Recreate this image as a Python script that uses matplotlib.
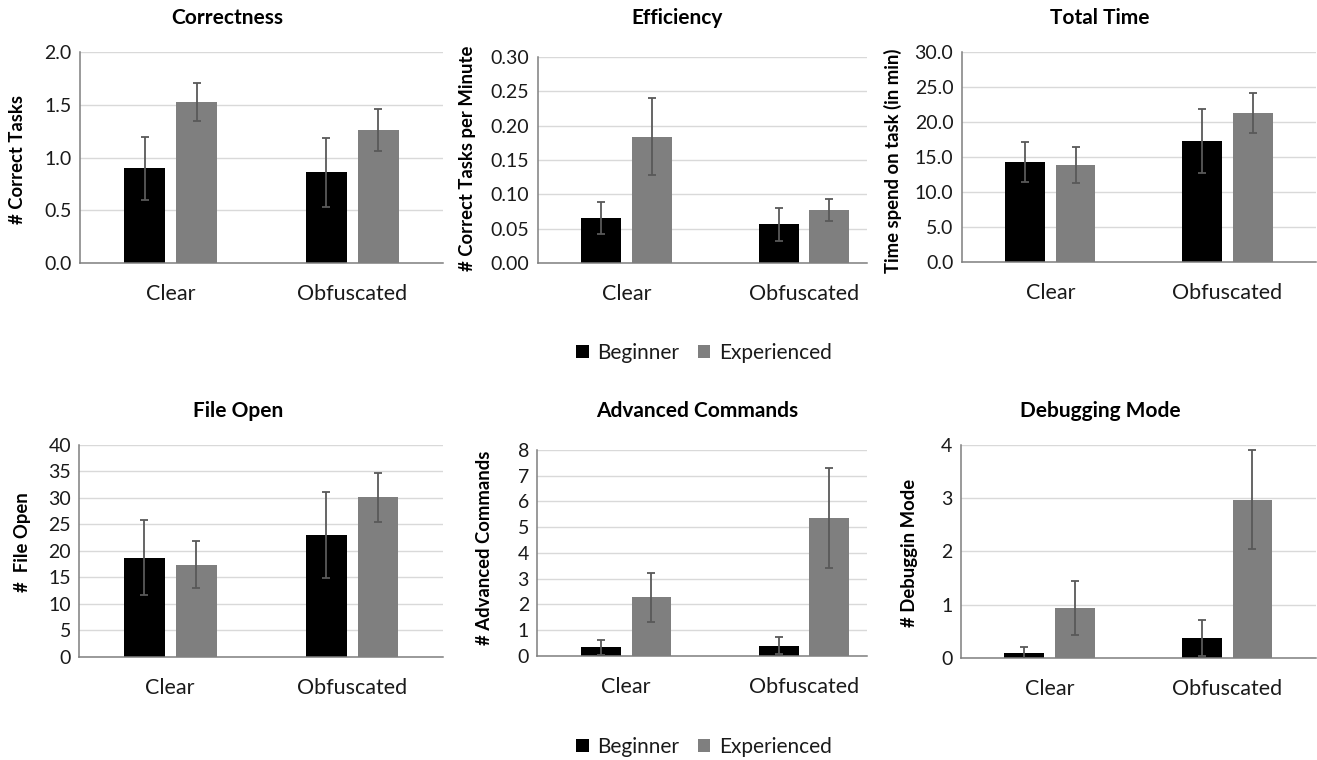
import matplotlib
matplotlib.use("Agg")
import matplotlib.pyplot as plt
from matplotlib.patches import Patch
import numpy as np

plt.rcParams['font.family'] = ['Lato', 'DejaVu Sans']

categories = ["Clear", "Obfuscated"]
series_names = ["Beginner", "Experienced"]

correct_beg = [0.90, 0.86]
correct_beg_err = [0.30, 0.33]
correct_exp = [1.53, 1.26]
correct_exp_err = [0.18, 0.20]

eff_beg = [0.066, 0.057]
eff_beg_err = [0.023, 0.024]
eff_exp = [0.184, 0.078]
eff_exp_err = [0.056, 0.016]

time_beg = [14.3, 17.3]
time_beg_err = [2.9, 4.6]
time_exp = [13.9, 21.3]
time_exp_err = [2.6, 2.9]

file_beg = [18.7, 23.0]
file_beg_err = [7.1, 8.1]
file_exp = [17.4, 30.1]
file_exp_err = [4.5, 4.7]

adv_beg = [0.33, 0.38]
adv_beg_err = [0.30, 0.33]
adv_exp = [2.28, 5.36]
adv_exp_err = [0.95, 1.95]

dbg_beg = [0.08, 0.37]
dbg_beg_err = [0.13, 0.34]
dbg_exp = [0.93, 2.97]
dbg_exp_err = [0.51, 0.93]

W, H = 1317, 760
fig = plt.figure(figsize=(W / 100, H / 100), dpi=100)

BEG_COLOR = "#000000"
EXP_COLOR = "#7f7f7f"
ERR_COLOR = "#595959"
TXT = "#1a1a1a"


def add_panel(box, beg, beg_err, exp, exp_err, ymax, step, fmt, xright,
              title, title_xy, ylabel, ylabel_xy):
    l, r, t, b = box
    ax = fig.add_axes([l / W, 1 - b / H, (r - l) / W, (b - t) / H])
    x = np.arange(len(categories))
    bw = 0.225
    off = 0.1425
    ax.bar(x - off, beg, bw, color=BEG_COLOR, zorder=2)
    ax.bar(x + off, exp, bw, color=EXP_COLOR, zorder=2)
    ax.errorbar(x - off, beg, yerr=beg_err, fmt="none", ecolor=ERR_COLOR,
                elinewidth=1.3, capsize=2.6, capthick=1.3, zorder=3)
    ax.errorbar(x + off, exp, yerr=exp_err, fmt="none", ecolor=ERR_COLOR,
                elinewidth=1.3, capsize=2.6, capthick=1.3, zorder=3)
    ax.set_xlim(-0.5, xright)
    ax.set_ylim(0, ymax)
    ticks = np.arange(0, ymax + step / 2, step)
    ax.set_yticks(ticks)
    ax.set_yticklabels([fmt.format(v) for v in ticks], fontsize=14,
                       color=TXT)
    ax.set_xticks(x)
    ax.set_xticklabels(categories, fontsize=15.5, color=TXT)
    ax.tick_params(axis="both", length=0)
    ax.tick_params(axis="x", pad=15)
    ax.tick_params(axis="y", pad=6)
    ax.yaxis.grid(True, color="#d9d9d9", lw=1)
    ax.set_axisbelow(True)
    for s in ["top", "right"]:
        ax.spines[s].set_visible(False)
    ax.spines["left"].set_color("#7f7f7f")
    ax.spines["bottom"].set_color("#7f7f7f")
    ax.spines["left"].set_linewidth(1.1)
    ax.spines["bottom"].set_linewidth(1.1)
    fig.text(title_xy[0] / W, 1 - title_xy[1] / H, title, ha="center",
             va="center", fontsize=15, fontweight="bold", color="#000000")
    fig.text(ylabel_xy[0] / W, 1 - ylabel_xy[1] / H, ylabel, ha="center",
             va="center", rotation=90, fontsize=13.3, fontweight="bold",
             color="#000000")
    return ax


add_panel((80, 443, 52, 263.3), correct_beg, correct_beg_err, correct_exp,
          correct_exp_err, 2.0, 0.5, "{:.1f}", 1.5,
          "Correctness", (227, 18), "# Correct Tasks", (18, 160))
add_panel((537.5, 867, 56.7, 263.3), eff_beg, eff_beg_err, eff_exp,
          eff_exp_err, 0.30, 0.05, "{:.2f}", 1.355,
          "Efficiency", (677, 18), "# Correct Tasks per Minute", (468, 158))
add_panel((961.7, 1316, 52.3, 261.7), time_beg, time_beg_err, time_exp,
          time_exp_err, 30.0, 5.0, "{:.1f}", 1.5,
          "Total Time", (1100, 18), "Time spend on task (in min)", (893, 161))
add_panel((79.3, 443, 445, 656.7), file_beg, file_beg_err, file_exp,
          file_exp_err, 40, 5, "{:.0f}", 1.5,
          "File Open", (238, 411), "#  File Open", (23, 542))
add_panel((537.3, 867, 450, 655.7), adv_beg, adv_beg_err, adv_exp,
          adv_exp_err, 8, 1, "{:.0f}", 1.355,
          "Advanced Commands", (697, 411), "# Advanced Commands", (485, 548))
add_panel((960.7, 1316, 445, 657.7), dbg_beg, dbg_beg_err, dbg_exp,
          dbg_exp_err, 4, 1, "{:.0f}", 1.5,
          "Debugging Mode", (1100, 411), "# Debuggin Mode", (909, 553))

handles = [Patch(facecolor=BEG_COLOR, label=series_names[0]),
           Patch(facecolor=EXP_COLOR, label=series_names[1])]
for ly in (353, 747):
    fig.legend(handles=handles, loc="center", bbox_to_anchor=(704 / W, 1 - ly / H),
               ncol=2, frameon=False, fontsize=15, handlelength=0.6,
               handleheight=0.6, handletextpad=0.4, columnspacing=0.9,
               labelcolor=TXT)

fig.savefig("out.png", dpi=100)
